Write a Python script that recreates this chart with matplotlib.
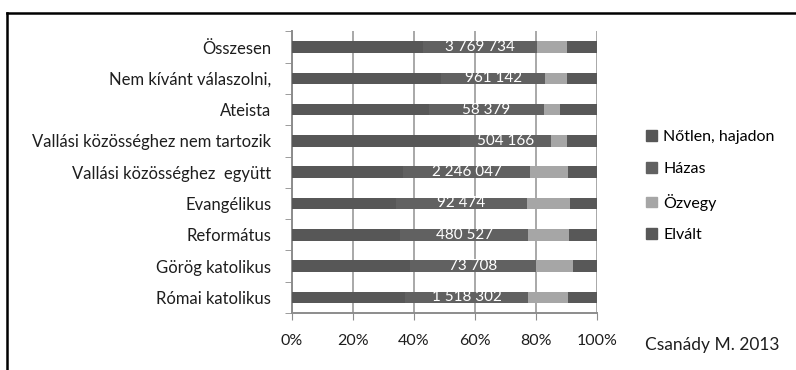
import matplotlib.pyplot as plt
from matplotlib.lines import Line2D
from matplotlib.ticker import FixedLocator, FuncFormatter
import numpy as np

plt.rcParams['font.family'] = ['Lato', 'DejaVu Sans']

# categories listed top to bottom
categories = ['Összesen', 'Nem kívánt válaszolni,', 'Ateista',
              'Vallási közösséghez nem tartozik', 'Vallási közösséghez  együtt',
              'Evangélikus', 'Református', 'Görög katolikus', 'Római katolikus']
counts = ['3 769 734', '961 142', '58 379', '504 166', '2 246 047',
          '92 474', '480 527', '73 708', '1 518 302']

# shares in percent by marital status
notlen = [43.0, 49.0, 45.0, 55.0, 36.5, 34.0, 35.5, 38.7, 37.0]
hazas = [37.3, 34.0, 37.6, 30.0, 41.5, 43.0, 42.0, 41.3, 40.5]
ozvegy = [9.7, 7.0, 5.4, 5.0, 12.5, 14.0, 13.2, 12.0, 13.0]
elvalt = [10.0, 10.0, 12.0, 10.0, 9.5, 9.0, 9.3, 8.0, 9.5]

series = ['Nőtlen, hajadon', 'Házas', 'Özvegy', 'Elvált']
colors = ['#575757', '#616161', '#a6a6a6', '#585858']

fig = plt.figure(figsize=(7.96, 3.70), dpi=100)
ax = fig.add_axes([292 / 796, 1 - 313 / 370, 305 / 796, 281.6 / 370])

y = np.arange(len(categories))
left = np.zeros(len(categories))
for name, vals, c in zip(series, [notlen, hazas, ozvegy, elvalt], colors):
    vals = np.array(vals)
    ax.barh(y, vals, left=left, height=0.37, color=c, label=name, zorder=3)
    if name == 'Házas':
        for yi, l, v, t in zip(y, left, vals, counts):
            ax.text(l + v / 2, yi, t, ha='center', va='center', color='white',
                    fontsize=11, zorder=4)
    left += vals

ax.set_xlim(0, 100)
ax.set_ylim(len(categories) - 0.5, -0.5)
ax.set_yticks(y)
ax.set_yticklabels(categories, fontsize=12, color='#1e1e1e')
ax.yaxis.set_minor_locator(FixedLocator(np.arange(-0.5, len(categories), 1)))
ax.tick_params(axis='y', which='major', length=0, pad=15)
ax.tick_params(axis='y', which='minor', length=5, color='#8c8c8c', direction='out')

ax.set_xticks(np.arange(0, 101, 20))
ax.xaxis.set_major_formatter(FuncFormatter(lambda v, p: f'{int(v)}%'))
ax.tick_params(axis='x', length=5, color='#8c8c8c', direction='out', labelsize=11.5,
               labelcolor='#1e1e1e', pad=10)

ax.grid(axis='x', color='#a8a8a8', linewidth=1.4, zorder=0)
for s in ['top', 'right']:
    ax.spines[s].set_visible(False)
for s in ['left', 'bottom']:
    ax.spines[s].set_color('#8c8c8c')
    ax.spines[s].set_linewidth(1.4)

# legend on the right
handles = [plt.Rectangle((0, 0), 1, 1, color=c) for c in colors]
fig.legend(handles, series, loc='upper left', bbox_to_anchor=(640 / 796, 1 - 124 / 370),
           frameon=False, fontsize=11.5, handlelength=0.65, handleheight=0.65,
           handletextpad=0.4, labelspacing=1.1, borderaxespad=0)

fig.text(645 / 796, 1 - 345 / 370, 'Csanády M. 2013', fontsize=12.5, va='center',
         color='#1e1e1e')

# frame lines at left and top
fig.add_artist(Line2D([7 / 796, 7 / 796], [0, 1 - 13 / 370], color='black', lw=1.8))
fig.add_artist(Line2D([7 / 796, 1], [1 - 13 / 370, 1 - 13 / 370], color='black', lw=1.8))

fig.savefig('out.png', dpi=100)
